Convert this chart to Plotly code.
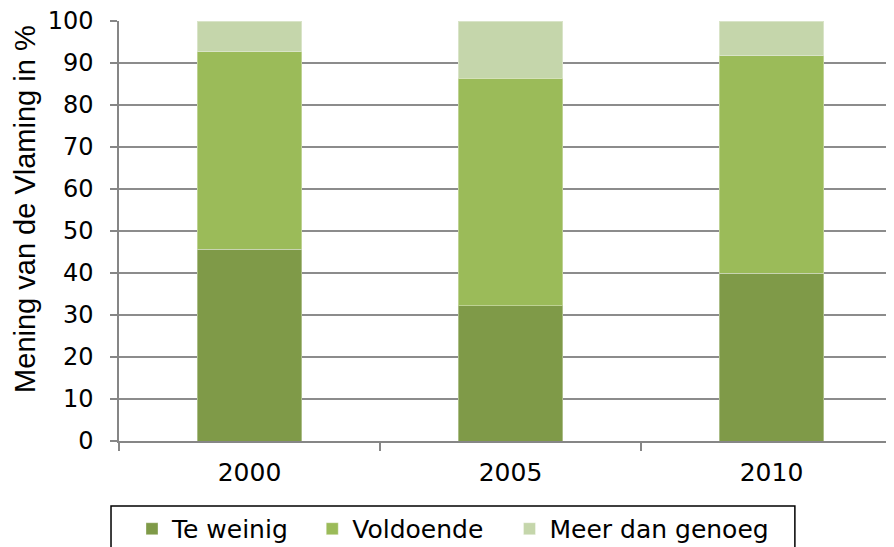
import plotly.graph_objects as go

years = ["2000", "2005", "2010"]
te_weinig = [45.7, 32.2, 40.0]
voldoende = [47.0, 54.2, 51.7]
meer_dan_genoeg = [7.3, 13.6, 8.3]
y_ticks = [0, 10, 20, 30, 40, 50, 60, 70, 80, 90, 100]

colors = ["#7F9A48", "#9BBB59", "#C5D6AB"]
names = ["Te weinig", "Voldoende", "Meer dan genoeg"]
series = [te_weinig, voldoende, meer_dan_genoeg]
y_title = "Mening van de Vlaming in %"

FONT = "DejaVu Sans"
TITLE_FONT = "Liberation Sans"

legend_ids = ["legend", "legend2", "legend3"]
legend_x = [0.0166, 0.2468, 0.4987]

fig = go.Figure()
for name, vals, col, lid in zip(names, series, colors, legend_ids):
    fig.add_trace(go.Bar(
        x=years, y=vals, name=name, legend=lid,
        marker=dict(color=col, line=dict(color="rgba(255,255,255,0.35)", width=1)),
        width=0.4,
    ))

# legend frame (bottom edge runs off the page like in the reference)
fig.add_shape(type="rect", xref="paper", yref="paper",
              x0=-0.0102, x1=0.8632, y0=-0.1548, y1=-0.32,
              line=dict(color="black", width=1.5), fillcolor="rgba(0,0,0,0)")

fig.add_annotation(text=y_title, xref="paper", yref="paper",
                   x=-0.1202, y=0.5524, xanchor="center", yanchor="middle",
                   textangle=-90, showarrow=False,
                   font=dict(family=TITLE_FONT, size=29, color="black"))

legend_common = dict(
    orientation="h", xanchor="left", y=-0.2095, yanchor="middle",
    borderwidth=0, bgcolor="rgba(0,0,0,0)",
    font=dict(family=FONT, size=25, color="black"),
)

fig.update_layout(
    barmode="stack",
    width=894, height=547,
    margin=dict(l=111, r=0, t=13, b=114),
    plot_bgcolor="white", paper_bgcolor="white",
    font=dict(family=FONT, size=24, color="black"),
    showlegend=True,
    legend=dict(x=legend_x[0], **legend_common),
    legend2=dict(x=legend_x[1], **legend_common),
    legend3=dict(x=legend_x[2], **legend_common),
    xaxis=dict(
        type="category",
        showline=True, linecolor="#868686", linewidth=1.5,
        ticks="outside", ticklen=8, tickcolor="#868686", tickwidth=1.5,
        tickson="boundaries",
        showgrid=False,
        ticklabelstandoff=8,
        tickfont=dict(family=FONT, size=25, color="black"),
    ),
    yaxis=dict(
        range=[0, 100],
        tickvals=y_ticks,
        showline=True, linecolor="#868686", linewidth=1.5,
        ticks="outside", ticklen=7, tickcolor="#868686", tickwidth=1.5,
        showgrid=True, gridcolor="#8C8C8C", gridwidth=1.5,
        zeroline=False,
        ticklabelstandoff=12,
        ticklabeloverflow="allow",
        tickfont=dict(family=FONT, size=24, color="black"),
    ),
)

fig.write_html("out.html")
